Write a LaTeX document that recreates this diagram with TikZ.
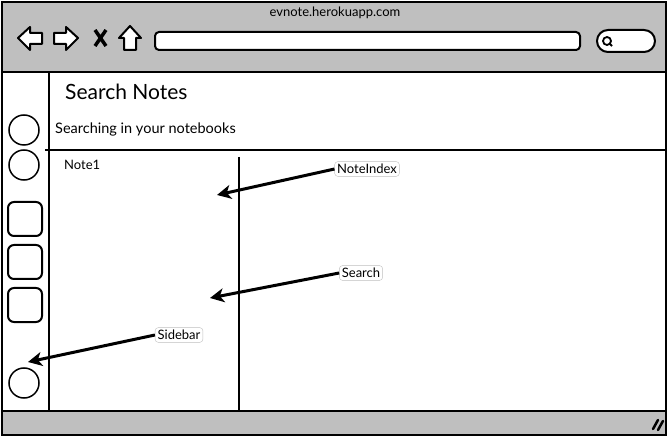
\documentclass[tikz,border=0pt]{standalone}
\usepackage{fontspec}
\setmainfont{Lato}
\usetikzlibrary{arrows.meta,positioning}

\tikzset{
  frame/.style={draw=black, line width=2.2pt},
  icon/.style={draw=black, fill=white, line width=2pt, line join=round},
  slot/.style={draw=black, line width=2pt, rounded corners=6pt},
  label text/.style={anchor=base west, inner sep=0pt},
  tag/.style={draw=black!25, fill=white, rounded corners=3pt, inner sep=2.5pt,
    font=\fontsize{13}{15}\selectfont},
  pointer/.style={line width=3pt, -{Stealth[length=14pt,width=14pt,inset=4pt]}},
}

\begin{document}
\begin{tikzpicture}[x=1pt,y=-1pt]
  \useasboundingbox (0,0) rectangle (669,438);

  % browser chrome
  \fill[black!25] (2,2) rectangle (666,72);
  \fill[black!25] (2,411) rectangle (666,435);
  \draw[frame] (2,2) rectangle (666,435);
  \draw[frame] (2,72) -- (666,72);
  \draw[frame] (2,411) -- (666,411);
  \node[font=\fontsize{13}{15}\selectfont] (url) at (335,13) {evnote.herokuapp.com};

  % back, forward, stop, home
  \draw[icon] (18,38) -- (30,27) -- (30,33) -- (42,33) -- (42,44) -- (30,44) -- (30,50) -- cycle;
  \draw[icon] (78,38) -- (66,27) -- (66,33) -- (54,33) -- (54,44) -- (66,44) -- (66,50) -- cycle;
  \draw[line width=3.5pt] (95,30) -- (106,46) (106,30) -- (95,46);
  \draw[icon] (130,26) -- (141,38) -- (136,38) -- (136,50) -- (124,50) -- (124,38) -- (119,38) -- cycle;

  % address bar and search box
  \draw[icon, rounded corners=4pt] (155,32) rectangle (580,50);
  \draw[icon, rounded corners=11pt] (597,30) rectangle (655,52);
  \draw[line width=1.8pt] (607,41) circle[radius=4];
  \draw[line width=1.8pt] (609,43) -- (612,46);

  % resize grip
  \draw[line width=2.5pt, line cap=round] (653,429) -- (658,420) (658,430) -- (663,421);

  % layout lines
  \draw[line width=1.5pt] (49,72) -- (49,411);
  \draw[line width=1.5pt] (45,150) -- (666,150);
  \draw[line width=1.5pt] (239,157) -- (239,411);

  % sidebar
  \draw[line width=1.5pt] (24,130) circle[radius=15];
  \draw[line width=1.5pt] (24,165) circle[radius=15];
  \foreach \y in {202,245,288}
    \draw[slot] (8,\y) rectangle +(34,34);
  \draw[line width=1.5pt] (24,383) circle[radius=15];

  % texts
  \node[label text, font=\fontsize{21}{24}\selectfont] (title) at (65,100) {Search Notes};
  \node[label text, font=\fontsize{14.5}{17}\selectfont] (subtitle) at (55,134) {Searching in your notebooks};
  \node[label text, font=\fontsize{13}{15}\selectfont] (note1) at (64,170) {Note1};

  % callouts
  \node[tag] (noteindex) at (367,169) {NoteIndex};
  \node[tag] (search) at (361,273) {Search};
  \node[tag] (sidebar) at (179,335) {Sidebar};
  \coordinate (noteindex-tip) at (217,195);
  \coordinate (search-tip) at (210,298);
  \coordinate (sidebar-tip) at (28,362);
  \draw[pointer] (noteindex.west) -- (noteindex-tip);
  \draw[pointer] (search.west) -- (search-tip);
  \draw[pointer] (sidebar.west) -- (sidebar-tip);
\end{tikzpicture}
\end{document}
